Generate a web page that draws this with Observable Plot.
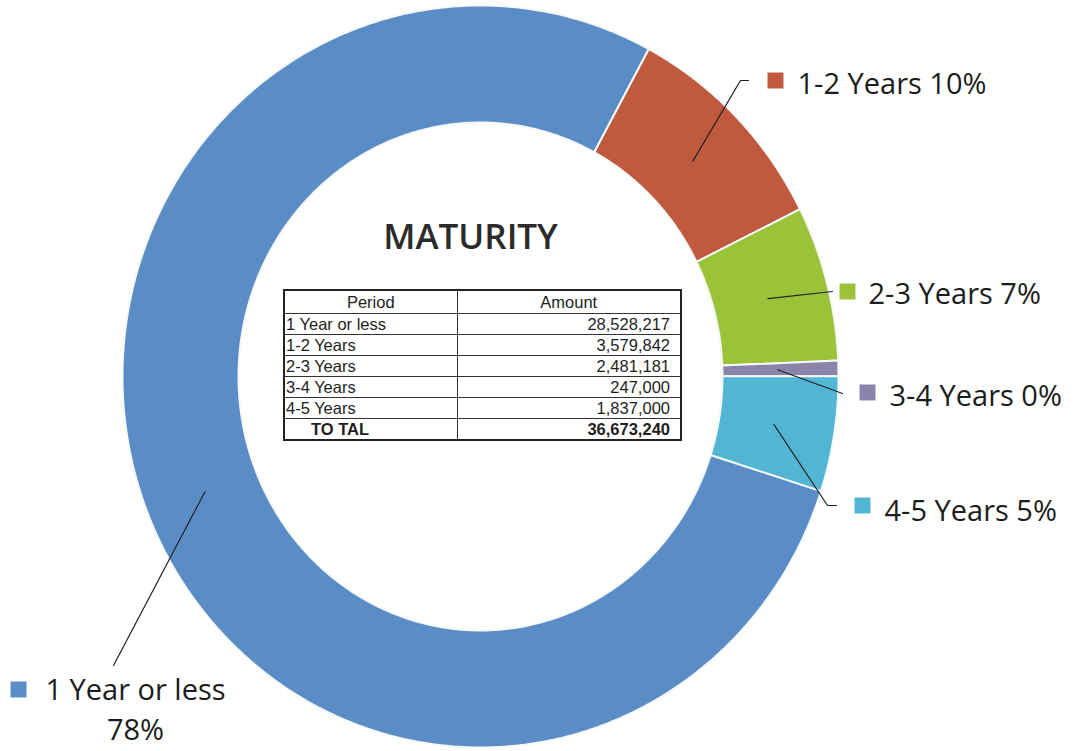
<!DOCTYPE html>
<html>
<head>
<meta charset="utf-8">
<script src="https://cdn.jsdelivr.net/npm/d3@7"></script>
<script src="https://cdn.jsdelivr.net/npm/@observablehq/plot@0.6"></script>
<style>
  html, body { margin: 0; padding: 0; background: #fff; }
  #wrap { position: relative; width: 1074px; height: 751px; overflow: hidden; }
  #wrap svg { position: absolute; left: 0; top: 0; }
  table.mat {
    position: absolute; left: 283px; top: 289px; width: 399px;
    border-collapse: collapse; border: 2.5px solid #222;
    font-family: "Liberation Sans", Arial, sans-serif; font-size: 16.5px; color: #1e1e1e;
  }
  table.mat td, table.mat th { border: 1.5px solid #333; padding: 0 1px; height: 20px; line-height: 20px; white-space: nowrap; }
  table.mat th { font-weight: normal; text-align: center; height: 22px; }
  table.mat td.num { text-align: right; padding-right: 10px; }
  table.mat tr.total td { font-weight: bold; }
  table.mat tr.total td.lbl { padding-left: 26px; }
  table.mat col.c1 { width: 173px; }
</style>
</head>
<body>
<div id="wrap"></div>
<script>
// ---- data ----
const periods = ["1 Year or less", "1-2 Years", "2-3 Years", "3-4 Years", "4-5 Years"];
const amounts = [28528217, 3579842, 2481181, 247000, 1837000];
const percentLabels = ["78%", "10%", "7%", "0%", "5%"];
const colors = ["#5a8cc6", "#c05a3e", "#9bc33a", "#8b83aa", "#52b5d3"];
const chartTitle = "MATURITY";
const tableHeader = ["Period", "Amount"];
const totalLabel = "TO TAL";

// ---- layout ----
const W = 1074, H = 751;
const CX = 480, CY = 376;
const RXo = 358, RYo = 371, RXi = 242, RYi = 254;
const START = 108 * Math.PI / 180;
const LEADER_R = 0.83;
const FONT = "'Open Sans', 'Noto Sans', sans-serif";
// x,y: baseline of the name; px,py: baseline of the percentage when on its own line
const labelLayout = [
  {x: 135, y: 699, anchor: "middle", px: 135, py: 739, sq: [18, 689], path: [[113, 665]]},
  {x: 797, y: 93, anchor: "start", sq: [775, 80], path: [[740, 80], [748, 80]]},
  {x: 868, y: 303, anchor: "start", sq: [847, 291], path: [[832, 291]]},
  {x: 889, y: 405, anchor: "start", sq: [867, 392], path: [[842, 393]]},
  {x: 884, y: 520, anchor: "start", sq: [862, 505], path: [[827, 505], [836, 505]]}
];

const pt = (a, rx, ry) => ({x: CX + rx * Math.sin(a), y: CY - ry * Math.cos(a)});

const arcs = d3.pie().sort(null).value(d => d).startAngle(START).endAngle(START + 2 * Math.PI)(amounts);

// slice polygons
const slicePts = [];
arcs.forEach((a, i) => {
  const n = Math.max(2, Math.ceil((a.endAngle - a.startAngle) / (Math.PI / 360)));
  for (let k = 0; k <= n; k++) {
    const t = a.startAngle + (a.endAngle - a.startAngle) * k / n;
    slicePts.push({period: periods[i], ...pt(t, RXo, RYo)});
  }
  for (let k = n; k >= 0; k--) {
    const t = a.startAngle + (a.endAngle - a.startAngle) * k / n;
    slicePts.push({period: periods[i], ...pt(t, RXi, RYi)});
  }
  slicePts.push({period: periods[i], ...pt(a.startAngle, RXo, RYo)});
});

// leader lines
const leaderPts = [];
arcs.forEach((a, i) => {
  const mid = (a.startAngle + a.endAngle) / 2;
  leaderPts.push({period: periods[i], ...pt(mid, RXo * LEADER_R, RYo * LEADER_R)});
  labelLayout[i].path.forEach(([x, y]) => leaderPts.push({period: periods[i], x, y}));
});

const labels = periods.map((p, i) => ({
  period: p,
  text: labelLayout[i].anchor === "middle" ? p : `${p} ${percentLabels[i]}`,
  pct: percentLabels[i],
  ...labelLayout[i]
}));
const startLabels = labels.filter(d => d.anchor === "start");
const midLabels = labels.filter(d => d.anchor === "middle");

const textStyle = {lineAnchor: "bottom", fontSize: 29, fontFamily: FONT, fill: "#1c1c1c"};

const plot = Plot.plot({
  width: W, height: H,
  margin: 0,
  x: {domain: [0, W], range: [0, W], axis: null},
  y: {domain: [0, H], range: [0, H], axis: null},
  color: {domain: periods, range: colors},
  style: {background: "transparent"},
  marks: [
    Plot.line(slicePts, {x: "x", y: "y", z: "period", fill: "period", stroke: "#f4f8f6", strokeWidth: 2, curve: "linear"}),
    Plot.line(leaderPts, {x: "x", y: "y", z: "period", stroke: "#222", strokeWidth: 1.2}),
    Plot.dot(labels, {x: d => d.sq[0], y: d => d.sq[1], fill: "period", symbol: "square", r: 9, stroke: "none"}),
    Plot.text(startLabels, {x: "x", y: "y", text: "text", textAnchor: "start", ...textStyle}),
    Plot.text(midLabels, {x: "x", y: "y", text: "text", textAnchor: "middle", ...textStyle}),
    Plot.text(midLabels, {x: "px", y: "py", text: "pct", textAnchor: "middle", ...textStyle}),
    Plot.text([chartTitle], {x: () => 470, y: () => 248, text: d => d, textAnchor: "middle", lineAnchor: "bottom", fontSize: 35, fontWeight: 600, fontFamily: FONT, fill: "#2b2b2b"})
  ]
});

const wrap = document.getElementById("wrap");
wrap.appendChild(plot);

// table
const fmt = d3.format(",");
const table = document.createElement("table");
table.className = "mat";
let html = `<colgroup><col class="c1"><col></colgroup><tr><th>${tableHeader[0]}</th><th>${tableHeader[1]}</th></tr>`;
periods.forEach((p, i) => {
  html += `<tr><td>${p}</td><td class="num">${fmt(amounts[i])}</td></tr>`;
});
html += `<tr class="total"><td class="lbl">${totalLabel}</td><td class="num">${fmt(d3.sum(amounts))}</td></tr>`;
table.innerHTML = html;
wrap.appendChild(table);
</script>
</body>
</html>
